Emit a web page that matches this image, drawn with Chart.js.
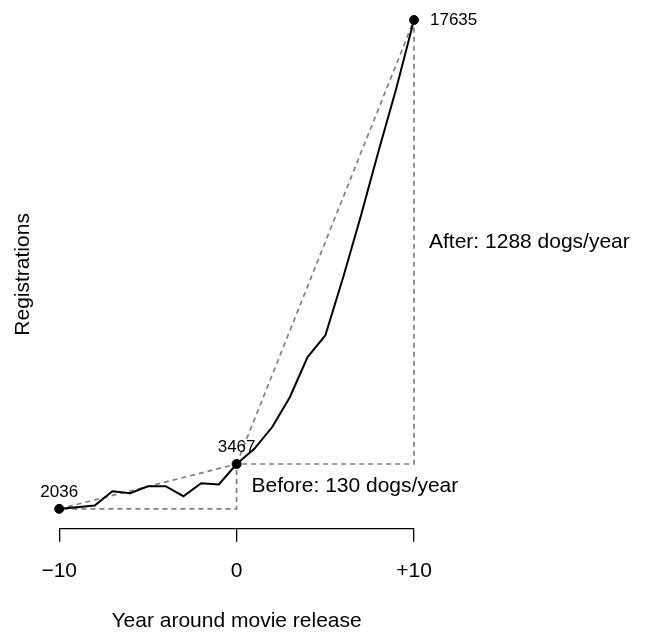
<!DOCTYPE html>
<html>
<head>
<meta charset="utf-8">
<title>Registrations around movie release</title>
<script src="https://cdn.jsdelivr.net/npm/chart.js@4.4.1/dist/chart.umd.min.js"></script>
<style>
    html, body { margin: 0; padding: 0; background: #fff; }
    #wrap { width: 650px; height: 632px; position: relative; }
</style>
</head>
<body>
<div id="wrap"><canvas id="regChart"></canvas></div>
<script>
// Dados
const years = [-10, -9, -8, -7, -6, -5, -4, -3, -2, -1, 0, 1, 2, 3, 4, 5, 6, 7, 8, 9, 10];
const registrations = [2036, 2090, 2142, 2599, 2535, 2759, 2759, 2439, 2855, 2814, 3467,
                       3950, 4640, 5600, 6880, 7570, 9410, 11370, 13450, 15450, 17635];

// Pontos marcados e rótulos
const anchorYears = [-10, 0, 10];
const anchorValues = [2036, 3467, 17635];
const slopeLabels = ['Before: 130 dogs/year', 'After: 1288 dogs/year'];

// Eixo x
const xTickValues = [-10, 0, 10];
const xTickLabels = ['\u221210', '0', '+10'];

const FONT = '"Liberation Sans", Arial, Helvetica, sans-serif';
const DASH_GRAY = '#808080';

// Triângulo tracejado entre dois pontos (diagonal + cateto horizontal + vertical)
function triangle(i) {
    return [
        { x: anchorYears[i], y: anchorValues[i] },
        { x: anchorYears[i + 1], y: anchorValues[i + 1] },
        { x: anchorYears[i + 1], y: anchorValues[i] },
        { x: anchorYears[i], y: anchorValues[i] }
    ];
}

function dashed(data) {
    return {
        type: 'line',
        data: data,
        borderColor: DASH_GRAY,
        borderWidth: 1.7,
        borderDash: [5, 4],
        pointRadius: 0,
        tension: 0,
        clip: false
    };
}

// Textos: valores nos pontos e inclinações
const annotations = {
    id: 'annotations',
    afterDatasetsDraw(chart) {
        const { ctx, scales: { x, y } } = chart;
        ctx.save();
        ctx.fillStyle = '#000';
        ctx.textBaseline = 'middle';

        ctx.font = '17px ' + FONT;
        anchorValues.forEach((v, i) => {
            const px = x.getPixelForValue(anchorYears[i]);
            const py = y.getPixelForValue(v);
            if (i < 2) {
                ctx.textAlign = 'center';
                ctx.fillText(String(v), px, py - 17);
            } else {
                ctx.textAlign = 'left';
                ctx.fillText(String(v), px + 16, py);
            }
        });

        ctx.font = '21px ' + FONT;
        ctx.textAlign = 'left';
        slopeLabels.forEach((label, i) => {
            const px = x.getPixelForValue(anchorYears[i + 1]);
            const py = y.getPixelForValue((anchorValues[i] + anchorValues[i + 1]) / 2);
            ctx.fillText(label, px + 15, py);
        });
        ctx.restore();
    }
};

const ctx = document.getElementById('regChart').getContext('2d');
new Chart(ctx, {
    type: 'line',
    data: {
        datasets: [
            {
                type: 'scatter',
                data: anchorYears.map((yr, i) => ({ x: yr, y: anchorValues[i] })),
                backgroundColor: '#000',
                borderColor: '#000',
                pointRadius: 4.5,
                borderWidth: 1,
                clip: false
            },
            {
                data: years.map((yr, i) => ({ x: yr, y: registrations[i] })),
                borderColor: '#000',
                borderWidth: 2,
                pointRadius: 0,
                tension: 0,
                clip: false
            },
            dashed(triangle(0)),
            dashed(triangle(1))
        ]
    },
    options: {
        responsive: true,
        maintainAspectRatio: false,
        animation: false,
        devicePixelRatio: 1,
        layout: { padding: { top: 20, right: 236, bottom: 0, left: 0 } },
        plugins: {
            legend: { display: false },
            tooltip: { enabled: false }
        },
        scales: {
            x: {
                type: 'linear',
                min: -10,
                max: 10,
                afterBuildTicks: (scale) => {
                    scale.ticks = xTickValues.map(v => ({ value: v }));
                },
                ticks: {
                    color: '#000',
                    font: { family: FONT, size: 21 },
                    padding: 17,
                    maxRotation: 0,
                    callback: (v) => xTickLabels[xTickValues.indexOf(v)]
                },
                grid: {
                    drawOnChartArea: false,
                    drawTicks: true,
                    tickLength: 13,
                    color: '#000',
                    lineWidth: 1.3
                },
                border: { display: true, color: '#000', width: 1.3 },
                title: {
                    display: true,
                    text: 'Year around movie release',
                    color: '#000',
                    font: { family: FONT, size: 21, lineHeight: 1 },
                    padding: { top: 10, bottom: 0 }
                }
            },
            y: {
                type: 'linear',
                min: 1400,
                max: 17635,
                ticks: { display: false },
                grid: { display: false, drawTicks: false },
                border: { display: false },
                title: {
                    display: true,
                    text: 'Registrations',
                    color: '#000',
                    font: { family: FONT, size: 21 },
                    padding: { top: 11, bottom: 23 }
                }
            }
        }
    },
    plugins: [annotations]
});
</script>
</body>
</html>
